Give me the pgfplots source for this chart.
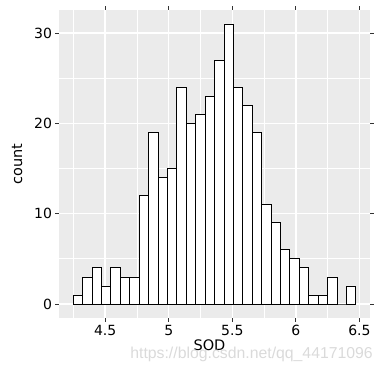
\documentclass[border=0pt]{standalone}
\usepackage{pgfplots}
\pgfplotsset{compat=1.18}
\usepackage{fontspec}
\setmainfont{DejaVu Sans}
\newfontfamily\wmfont{Liberation Sans}
\definecolor{panelbg}{HTML}{EBEBEB}
\definecolor{tickgray}{HTML}{333333}
\definecolor{wm}{HTML}{DADADA}
\begin{document}
\begin{tikzpicture}[x=1pt,y=1pt]
\useasboundingbox (0,0) rectangle (382,372);
\begin{axis}[
  at={(59pt,54pt)}, anchor=south west,
  scale only axis, width=311pt, height=308pt,
  xmin=4.137, xmax=6.583, ymin=-1.55, ymax=32.55,
  axis background/.style={fill=panelbg},
  axis line style={draw=none},
  xtick={4.5,5,5.5,6,6.5}, xticklabels={4.5,5,5.5,6,6.5},
  ytick={0,10,20,30}, yticklabels={0,10,20,30},
  minor xtick={4.25,4.75,5.25,5.75,6.25},
  minor ytick={5,15,25},
  grid=both,
  major grid style={white, line width=1.4pt},
  minor grid style={white, line width=0.7pt},
  tick align=outside, major tick length=3.5pt, minor tick length=0pt,
  tick style={tickgray, line width=0.8pt},
  tick label style={font=\fontsize{14}{16}\selectfont, text=black},
  label style={font=\fontsize{14.5}{17}\selectfont, text=black},
  xlabel={SOD}, ylabel={count},
  xlabel style={yshift=3pt, xshift=-5pt},
  ylabel style={yshift=5pt},
  axis on top=false,
]
\addplot[ybar interval, fill=white, draw=black, line width=0.8pt] coordinates {
(4.248,1) (4.322,3) (4.396,4) (4.470,2) (4.545,4) (4.619,3) (4.693,3)
(4.767,12) (4.841,19) (4.915,14) (4.989,15) (5.063,24) (5.137,20)
(5.211,21) (5.286,23) (5.360,27) (5.434,31) (5.508,24) (5.582,22)
(5.656,19) (5.730,11) (5.804,9) (5.878,6) (5.952,5) (6.027,4)
(6.101,1) (6.175,1) (6.249,3) (6.323,0) (6.397,2) (6.472,2)
};
\end{axis}
\node[anchor=east, text=wm, font=\wmfont\fontsize{15.8}{18}\selectfont, inner sep=0pt] at (373,18) {https://blog.csdn.net/qq\_44171096};
\end{tikzpicture}
\end{document}
